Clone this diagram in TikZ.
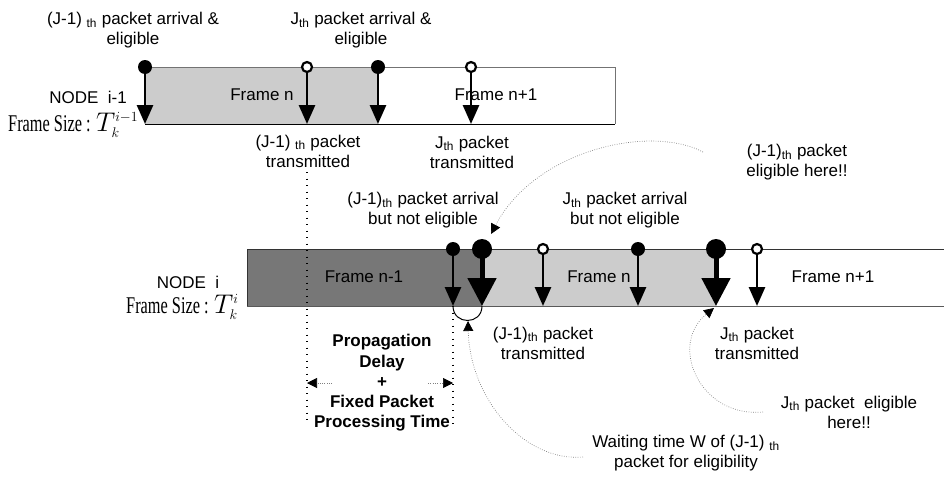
\documentclass[tikz,border=0pt]{standalone}
\usepackage{fix-cm}
\usepackage{fontspec}
\setmainfont{Liberation Sans}
\newfontfamily\narrowserif[FakeStretch=0.68]{Liberation Serif}
\usetikzlibrary{arrows.meta}

\definecolor{framelight}{HTML}{CCCCCC}
\definecolor{framedark}{HTML}{777777}
\DeclareMathSizes{27}{27}{14}{11}
\newcommand\subth{\textsubscript{th}}
\newcommand\framesym[1]{{\fontsize{27}{27}\selectfont$T_k^{#1}$}}

\begin{document}
\begin{tikzpicture}[x=1pt,y=-1pt,
  lbl/.style={font=\fontsize{17}{20}\selectfont, align=center, inner sep=0pt},
  boldlbl/.style={lbl, font=\fontsize{17}{20.2}\selectfont\bfseries},
  sizelbl/.style={font=\fontsize{24}{24}\narrowserif, inner sep=0pt, anchor=base west},
  fdot/.style={circle, fill=black, inner sep=0pt, minimum size=14pt},
  bdot/.style={circle, fill=black, inner sep=0pt, minimum size=20pt},
  hdot/.style={circle, draw=black, fill=white, line width=2.2pt, inner sep=0pt, minimum size=10pt},
  pkt/.style={line width=2.8pt, -{Triangle[width=16pt,length=19pt]}},
  bigpkt/.style={line width=5pt, -{Triangle[width=28pt,length=28pt]}},
  guide/.style={line width=1.3pt, dash pattern=on 1.3pt off 5.2pt},
  hint/.style={draw=black!50, line width=0.7pt, dash pattern=on 0.7pt off 1.6pt,
               -{Triangle[width=10pt,length=10pt,color=black]}},
  bar/.style={line width=1pt}]

\useasboundingbox (0,0) rectangle (944,482);

% ---- NODE i-1 time line ----
\fill[framelight] (145,67) rectangle (378,124);
\draw[bar, black!55] (145,67) -- (615,67) -- (615,124);
\draw[bar, black] (145,124) -- (615,124);

% ---- NODE i time line ----
\fill[framedark] (247,249) rectangle (482,306);
\fill[framelight] (482,249) rectangle (716,306);
\draw[bar, black!80] (944,249) -- (247,249) -- (247,306);
\draw[bar, black!65] (247,306) -- (944,306);

% ---- guide lines for the delay ----
\coordinate (g1a) at (307,172);
\coordinate (g1b) at (307,420);
\coordinate (g2a) at (453,306);
\coordinate (g2b) at (453,426);
\draw[guide] (g1a) -- (g1b);
\draw[guide] (g2a) -- (g2b);

% ---- arrival points, NODE i-1 ----
\node[fdot] (t1) at (145,67) {};
\node[hdot] (t2) at (307,67) {};
\node[fdot] (t3) at (378,67) {};
\node[hdot] (t4) at (471,67) {};
\coordinate (t1e) at (145,124);
\coordinate (t2e) at (307,124);
\coordinate (t3e) at (378,124);
\coordinate (t4e) at (471,124);
\draw[pkt] (t1.center) -- (t1e);
\draw[pkt] (t2.south) -- (t2e);
\draw[pkt] (t3.center) -- (t3e);
\draw[pkt] (t4.south) -- (t4e);

% ---- arrival points, NODE i ----
\node[fdot] (b1) at (453,249) {};
\node[bdot] (b2) at (482,249) {};
\node[hdot] (b3) at (543,249) {};
\node[fdot] (b4) at (638,249) {};
\node[bdot] (b5) at (716,249) {};
\node[hdot] (b6) at (757,249) {};
\coordinate (b1e) at (453,306);
\coordinate (b2e) at (482,306);
\coordinate (b3e) at (543,306);
\coordinate (b4e) at (638,306);
\coordinate (b5e) at (716,306);
\coordinate (b6e) at (757,306);
\draw[pkt] (b1.center) -- (b1e);
\draw[bigpkt] (b2.center) -- (b2e);
\draw[pkt] (b3.south) -- (b3e);
\draw[pkt] (b4.center) -- (b4e);
\draw[bigpkt] (b5.center) -- (b5e);
\draw[pkt] (b6.south) -- (b6e);

% waiting interval of the (J-1)th packet
\draw[line width=1pt] (b1e) .. controls (453,325.3) and (482,325.3) .. (b2e);

% ---- delay span arrows ----
\coordinate (d1a) at (332,383);
\coordinate (d2a) at (428,383);
\draw[hint] (d1a) -- (g1a |- d1a);
\draw[hint] (d2a) -- (g2a |- d2a);

% ---- pointer curves ----
\coordinate (e1) at (703,152);
\coordinate (e1t) at (491,234);
\draw[hint] (e1) .. controls (650,124) and (535,150) .. (e1t);
\coordinate (e2) at (763,412);
\coordinate (e2t) at (714,308);
\draw[hint] (e2) .. controls (700,418) and (668,345) .. (e2t);
\coordinate (e3) at (583,457);
\coordinate (e3t) at (468,321);
\draw[hint] (e3) .. controls (525,462) and (470,400) .. (e3t);

% ---- texts, NODE i-1 ----
\node[lbl] (l1) at (133,30) {(J-1) \subth{} packet arrival \&\\eligible};
\node[lbl] (l2) at (361,30) {J\subth{} packet arrival \&\\eligible};
\node[lbl] (f1) at (262,95) {Frame n};
\node[lbl] (f2) at (496,95) {Frame n+1};
\node[lbl] (n1) at (88,97) {NODE\ \ i-1};
\node[sizelbl] (s1) at (8,131) {Frame Size : \framesym{i-1}};
\node[lbl] (l3) at (308,151) {(J-1) \subth{} packet\\transmitted};
\node[lbl] (l4) at (472,152) {J\subth{} packet\\transmitted};

% ---- texts, NODE i ----
\node[lbl] (l5) at (423,210) {(J-1)\subth{} packet arrival\\but not eligible};
\node[lbl] (l6) at (625,210) {J\subth{} packet arrival\\but not eligible};
\node[lbl] (l7) at (797,162) {(J-1)\subth{} packet\\eligible here!!};
\node[lbl] (n2) at (188,282) {NODE\ \ i};
\node[sizelbl] (s2) at (126,313) {Frame Size : \framesym{i}};
\node[lbl] (f3) at (364,277) {Frame n-1};
\node[lbl] (f4) at (599,277) {Frame n};
\node[lbl] (f5) at (833,277) {Frame n+1};
\node[lbl] (l8) at (543,343) {(J-1)\subth{} packet\\transmitted};
\node[lbl] (l9) at (757,343) {J\subth{} packet\\transmitted};
\node[boldlbl] (pd) at (382,383) {Propagation\\Delay\\+\\Fixed Packet\\Processing Time};
\node[lbl] (l10) at (849,412) {J\subth{} packet\ \ eligible\\here!!};
\node[lbl] (l11) at (686,453) {Waiting time W of (J-1) \subth\\packet for eligibility};

\end{tikzpicture}
\end{document}
